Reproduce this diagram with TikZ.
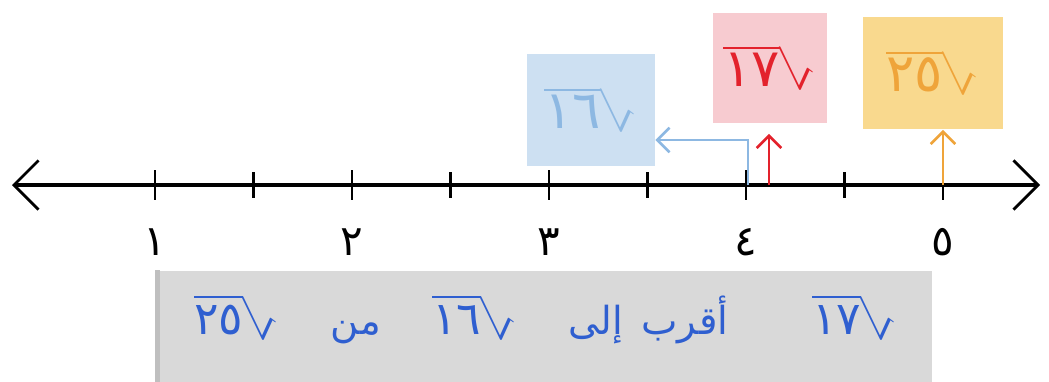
\documentclass[tikz,border=0pt]{standalone}
\usepackage{fontspec}
\usepackage{graphicx}
\newfontfamily\arabicfont[Script=Arabic]{DejaVu Sans}
\usetikzlibrary{arrows.meta,positioning}
\definecolor{sqblue}{HTML}{8DB8E2}
\definecolor{boxblue}{HTML}{CDE0F2}
\definecolor{sqred}{HTML}{E3222C}
\definecolor{boxred}{HTML}{F7CBD0}
\definecolor{sqyel}{HTML}{EFA43A}
\definecolor{boxyel}{HTML}{F9D98E}
\definecolor{txtblue}{HTML}{2F5FD0}
\definecolor{boxgray}{HTML}{D9D9D9}
% radical drawn the Arabic way (sign on the right)
\newcommand\jdr[1]{\reflectbox{$\sqrt{\mbox{\reflectbox{\arabicfont #1}}}$}}
\tikzset{
  ax/.style={line width=2.2pt, {Straight Barb[length=14pt,width=28pt,line width=1.6pt]}-{Straight Barb[length=14pt,width=28pt,line width=1.6pt]}},
  tk/.style={line width=1.6pt},
  num/.style={font=\arabicfont\fontsize{24}{28}\selectfont},
  sqbox/.style={inner sep=0pt, font=\fontsize{30}{34}\selectfont},
  pnt/.style={-{Straight Barb[length=7pt,width=14pt]}, line width=1.5pt},
  wrd/.style={inner sep=0pt, anchor=base, text=txtblue, font=\arabicfont\fontsize{22}{26}\selectfont},
  rad/.style={wrd, font=\fontsize{26}{30}\selectfont}
}
\begin{document}
\begin{tikzpicture}[x=0.02cm, y=-0.02cm]
  \useasboundingbox (0,0) rectangle (1049,382);
  % number line
  \coordinate (L) at (12,185);
  \coordinate (R) at (1040,185);
  \draw[ax] (L) -- (R);
  \foreach \n/\d in {1/١,2/٢,3/٣,4/٤,5/٥} {
    \pgfmathsetmacro\xx{155+197*(\n-1)}
    \draw[tk] (\xx,170) -- (\xx,200);
    \node[num] (n\n) at (\xx,242) {\d};
  }
  \foreach \xx in {253.5,450.5,647.5,844.5}
    \draw[tk] (\xx,172) -- (\xx,198);
  % the three roots
  \node[sqbox, fill=boxblue, minimum width=2.56cm, minimum height=2.24cm, text=sqblue] (sq16) at (591,110) {\jdr{١٦}};
  \node[sqbox, fill=boxred, minimum width=2.3cm, minimum height=2.2cm, text=sqred] (sq17) at (770,68) {\jdr{١٧}};
  \node[sqbox, fill=boxyel, minimum width=2.8cm, minimum height=2.26cm, text=sqyel] (sq25) at (933,73) {\jdr{٢٥}};
  \coordinate (p16) at (748,185);
  \coordinate (p17) at (769,185);
  \coordinate (p25) at (943,185);
  \coordinate (b16) at (748,140);
  \draw[pnt, sqblue] (p16) -- (b16) -- (b16 -| sq16.east);
  \draw[pnt, sqred, shorten >=6pt] (p17) -- (p17 |- sq17.south);
  \draw[pnt, sqyel] (p25) -- (p25 |- sq25.south);
  % sentence
  \node[fill=boxgray, minimum width=15.48cm, minimum height=2.3cm] (jumla) at (545,328) {};
  \draw[line width=3pt, black!25] (jumla.north west) -- (jumla.south west);
  \node[rad] (w17) at (855,334) {\jdr{١٧}};
  \node[wrd] (aqrab) at (685,334) {أقرب};
  \node[wrd] (ila) at (596,334) {إلى};
  \node[rad] (w16) at (475,334) {\jdr{١٦}};
  \node[wrd] (min) at (356,334) {من};
  \node[rad] (w25) at (237,334) {\jdr{٢٥}};
\end{tikzpicture}
\end{document}
